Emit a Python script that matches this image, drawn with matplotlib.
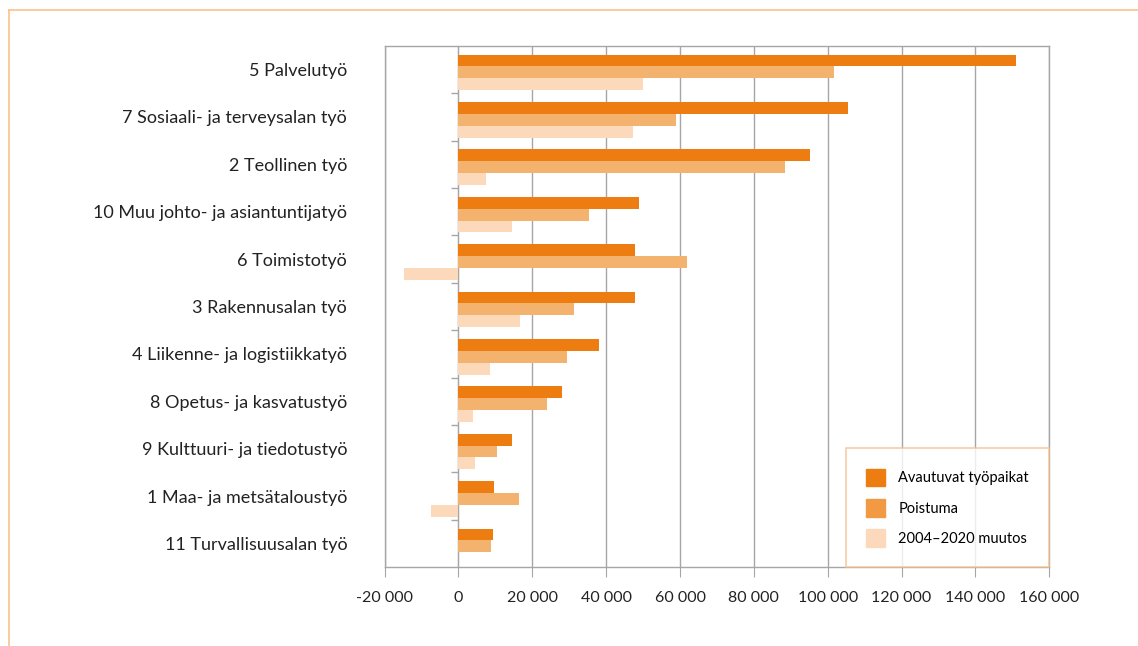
import matplotlib.pyplot as plt
from matplotlib.lines import Line2D
from matplotlib.patches import Patch
from matplotlib.ticker import FuncFormatter
import numpy as np

plt.rcParams['font.family'] = ['Lato', 'DejaVu Sans']

categories = [
    "5 Palvelutyö",
    "7 Sosiaali- ja terveysalan työ",
    "2 Teollinen työ",
    "10 Muu johto- ja asiantuntijatyö",
    "6 Toimistotyö",
    "3 Rakennusalan työ",
    "4 Liikenne- ja logistiikkatyö",
    "8 Opetus- ja kasvatustyö",
    "9 Kulttuuri- ja tiedotustyö",
    "1 Maa- ja metsätaloustyö",
    "11 Turvallisuusalan työ",
]
avautuvat = [151000, 105400, 95200, 48800, 47800, 47800, 38000, 28100, 14400, 9600, 9400]
poistuma = [101600, 58900, 88400, 35300, 61900, 31200, 29300, 23900, 10400, 16400, 8800]
muutos = [49900, 47200, 7400, 14400, -14800, 16700, 8600, 3900, 4500, -7400, 0]
series_names = ["Avautuvat työpaikat", "Poistuma", "2004–2020 muutos"]

c_dark = "#EE7D11"
c_mid = "#F4B26F"
c_light = "#FBD9BA"
c_mid_legend = "#F19A43"
grid_col = "#A6A6A6"

fig = plt.figure(figsize=(11.38, 6.46), dpi=100)
ax = fig.add_axes([0.338, 0.122, 0.584, 0.807])

y = np.arange(len(categories)) + 0.06
h = 0.25
ax.barh(y - h, avautuvat, height=h, color=c_dark, zorder=3)
ax.barh(y, poistuma, height=h, color=c_mid, zorder=3)
ax.barh(y + h, muutos, height=h, color=c_light, zorder=3)

ax.set_xlim(-20000, 160000)
ax.set_ylim(len(categories) - 0.5, -0.5)
ax.set_xticks(np.arange(-20000, 160001, 20000))
ax.xaxis.set_major_formatter(FuncFormatter(lambda v, p: f"{int(v):,}".replace(",", " ")))
ax.tick_params(axis='x', length=7, color=grid_col, pad=10, labelsize=11.5, labelcolor="#222222")
ax.set_yticks(np.arange(len(categories)))
ax.set_yticklabels(categories)
ax.tick_params(axis='y', length=0, pad=27, labelsize=13, labelcolor="#222222")
ax.grid(axis='x', color=grid_col, linewidth=1)
ax.set_axisbelow(True)
for s in ax.spines.values():
    s.set_color(grid_col)
    s.set_linewidth(1)

# category axis at zero with boundary ticks
x0, x1 = ax.get_xlim()
sec = ax.secondary_yaxis((0 - x0) / (x1 - x0))
sec.set_yticks(np.arange(0.5, len(categories) - 0.5, 1))
sec.set_yticklabels([])
sec.tick_params(length=5, color=grid_col, width=1)
sec.spines['left'].set_color(grid_col)

handles = [Patch(color=c_dark), Patch(color=c_mid_legend), Patch(color=c_light)]
leg = ax.legend(handles, series_names, loc='lower right', bbox_to_anchor=(1.0, 0.0),
                frameon=True, fancybox=False, fontsize=10.5, borderpad=1.4,
                labelspacing=0.85, handlelength=1.3, handleheight=1.5, handletextpad=0.9,
                borderaxespad=0)
leg.get_frame().set_edgecolor("#F6BF8A")
leg.get_frame().set_linewidth(1.2)
leg.set_zorder(5)

# outer frame (top and left)
frame_col = "#F9C28E"
fig.add_artist(Line2D([0.008, 1.0], [0.985, 0.985], color=frame_col, lw=1.2))
fig.add_artist(Line2D([0.008, 0.008], [0.0, 0.985], color=frame_col, lw=1.2))

fig.savefig("out.png", dpi=100)
